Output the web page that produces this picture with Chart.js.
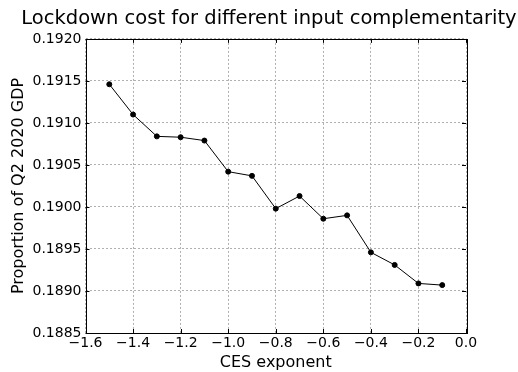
<!DOCTYPE html>
<html>
<head>
<meta charset="utf-8">
<script src="https://cdn.jsdelivr.net/npm/chart.js@4"></script>
<style>
    html, body { margin: 0; padding: 0; background: #fff; }
    #chartBox { width: 518px; height: 372px; }
</style>
</head>
<body>
<div id="chartBox"><canvas id="costChart"></canvas></div>
<script>
// CES exponent values and lockdown cost (share of Q2 2020 GDP)
const cesExponent = [-1.5, -1.4, -1.3, -1.2, -1.1, -1.0, -0.9, -0.8, -0.7, -0.6, -0.5, -0.4, -0.3, -0.2, -0.1];
const lockdownCost = [0.19146, 0.19110, 0.19084, 0.19083, 0.19079, 0.19042, 0.19037, 0.18998, 0.19013,
    0.18986, 0.18990, 0.18946, 0.18931, 0.18909, 0.18907];
const xTicks = [-1.6, -1.4, -1.2, -1.0, -0.8, -0.6, -0.4, -0.2, 0.0];
const yTicks = [0.1885, 0.1890, 0.1895, 0.1900, 0.1905, 0.1910, 0.1915, 0.1920];

const FONT = "'DejaVu Sans', sans-serif";

// closed frame round the plot plus inward tick marks on all four sides (matplotlib classic look)
const frameBox = {
    id: 'frameBox',
    afterDraw(chart) {
        const { ctx, chartArea: a } = chart;
        const xs = chart.scales.x, ys = chart.scales.y;
        const len = 4;
        ctx.save();
        ctx.strokeStyle = '#000';
        ctx.lineWidth = 1;
        ctx.beginPath();
        xTicks.forEach(v => {
            const px = Math.round(xs.getPixelForValue(v)) + 0.5;
            ctx.moveTo(px, a.bottom); ctx.lineTo(px, a.bottom - len);
            ctx.moveTo(px, a.top); ctx.lineTo(px, a.top + len);
        });
        yTicks.forEach(v => {
            const py = Math.round(ys.getPixelForValue(v)) + 0.5;
            ctx.moveTo(a.left, py); ctx.lineTo(a.left + len, py);
            ctx.moveTo(a.right, py); ctx.lineTo(a.right - len, py);
        });
        ctx.stroke();
        ctx.strokeRect(Math.round(a.left) + 0.5, Math.round(a.top) + 0.5,
            Math.round(a.right - a.left), Math.round(a.bottom - a.top));
        ctx.restore();
    }
};

const ctx = document.getElementById('costChart').getContext('2d');
new Chart(ctx, {
    type: 'line',
    data: {
        datasets: [{
            data: cesExponent.map((x, i) => ({ x: x, y: lockdownCost[i] })),
            borderColor: '#000',
            backgroundColor: '#000',
            borderWidth: 1,
            pointRadius: 2.5,
            pointHoverRadius: 2.5,
            tension: 0
        }]
    },
    options: {
        responsive: true,
        maintainAspectRatio: false,
        animation: false,
        layout: { padding: { left: 20, right: 0, top: 0, bottom: 0 } },
        plugins: {
            legend: { display: false },
            tooltip: { enabled: false },
            title: {
                display: true,
                text: 'Lockdown cost for different input complementarity',
                color: '#000',
                font: { family: FONT, size: 19.5, weight: 'normal' },
                padding: { top: 7, bottom: 8.5 }
            }
        },
        scales: {
            x: {
                type: 'linear',
                min: -1.6,
                max: 0.0,
                afterBuildTicks: scale => { scale.ticks = xTicks.map(v => ({ value: v })); },
                afterFit: scale => { scale.height = 39; },
                ticks: {
                    color: '#000',
                    font: { family: FONT, size: 14 },
                    padding: 2,
                    maxRotation: 0,
                    callback: v => (v < 0 ? '\u2212' : '') + Math.abs(v).toFixed(1)
                },
                grid: { color: '#b0b0b0', lineWidth: 1, tickLength: 0, drawTicks: false },
                border: { display: false, dash: [2, 2] },
                title: {
                    display: true,
                    text: 'CES exponent',
                    color: '#000',
                    font: { family: FONT, size: 16 },
                    padding: { top: 0, bottom: 0 }
                }
            },
            y: {
                min: 0.1885,
                max: 0.1920,
                afterBuildTicks: scale => { scale.ticks = yTicks.map(v => ({ value: v })); },
                afterFit: scale => { scale.width = 65.5; },
                ticks: {
                    color: '#000',
                    font: { family: FONT, size: 14 },
                    padding: 4,
                    callback: v => v.toFixed(4)
                },
                grid: { color: '#b0b0b0', lineWidth: 1, tickLength: 0, drawTicks: false },
                border: { display: false, dash: [2, 2] },
                title: {
                    display: true,
                    text: 'Proportion of Q2 2020 GDP',
                    color: '#000',
                    font: { family: FONT, size: 16 },
                    padding: { top: -11, bottom: 0 }
                }
            },
            // empty right-hand box so the plot ends where the reference does
            yRight: {
                position: 'right',
                display: true,
                afterFit: scale => { scale.width = 52; },
                ticks: { display: false },
                grid: { display: false },
                border: { display: false }
            }
        }
    },
    plugins: [frameBox]
});
</script>
</body>
</html>
